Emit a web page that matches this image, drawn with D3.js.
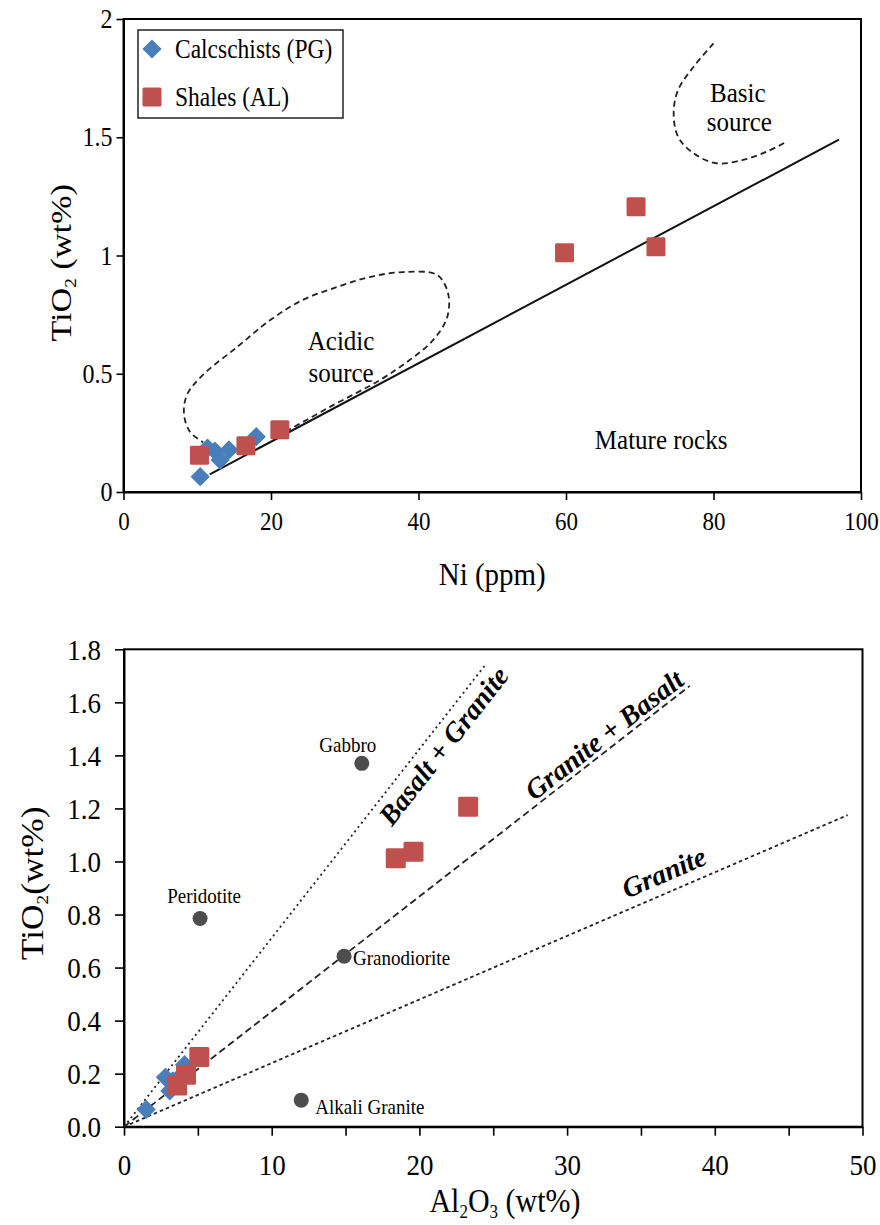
<!DOCTYPE html>
<html>
<head>
<meta charset="utf-8">
<script src="https://cdn.jsdelivr.net/npm/d3@7"></script>
<style>
    body { margin: 0; background: #fff; }
    svg text { font-family: "Liberation Serif", "Times New Roman", serif; fill: #000; }
    .st { transform-box: fill-box; transform-origin: center; transform: scaleY(1.12); }
</style>
</head>
<body>
<div id="chart"></div>
<script>
// ---- top panel: Ni (ppm) vs TiO2 (wt%) ----
const niTicks = [0, 20, 40, 60, 80, 100]
const tiTicksTop = [0, 0.5, 1, 1.5, 2]
const calcNi = [10.4, 11.4, 12.4, 13.1, 14.3, 18.0]
const calcTiO2 = [0.065, 0.186, 0.173, 0.135, 0.178, 0.234]
const shaleNi = [10.3, 16.6, 21.2, 59.8, 69.5, 72.2]
const shaleTiO2 = [0.155, 0.196, 0.263, 1.012, 1.206, 1.037]
const matureLine = [[11.7, 0.075], [97, 1.49]]
const acidicCurve = [[22, 0.255], [28, 0.36], [34.8, 0.474], [38.8, 0.558], [42.0, 0.643], [43.9, 0.740],
    [44.0, 0.841], [42.5, 0.918], [37.9, 0.930], [33.4, 0.909], [29.0, 0.867], [24.3, 0.812],
    [19.9, 0.727], [15.4, 0.613], [10.6, 0.49], [8.6, 0.41], [8.2, 0.33], [9.0, 0.255], [10.8, 0.21]]
const basicCurve = [[80.0, 1.897], [77.3, 1.798], [75.2, 1.700], [74.6, 1.603], [75.2, 1.502],
    [77.3, 1.432], [80.4, 1.390], [84.0, 1.404], [87.2, 1.439], [89.9, 1.481]]

// ---- bottom panel: Al2O3 (wt%) vs TiO2 (wt%) ----
const alTicks = [0, 5, 10, 15, 20, 25, 30, 35, 40, 45, 50]
const tiTicksBottom = [0, 0.2, 0.4, 0.6, 0.8, 1.0, 1.2, 1.4, 1.6, 1.8]
const calcAl = [1.5, 2.8, 3.3, 3.1, 3.6, 4.1]
const shaleAl = [3.6, 4.2, 5.1, 18.4, 23.3, 19.6]
const rockNames = ["Gabbro", "Peridotite", "Granodiorite", "Alkali Granite"]
const rockAl = [16.1, 5.15, 14.9, 12.0]
const rockTiO2 = [1.37, 0.785, 0.643, 0.10]
const mixNames = ["Basalt + Granite", "Granite + Basalt", "Granite"]
const mixEndAl = [24.5, 38.3, 49.0]
const mixEndTiO2 = [1.744, 1.662, 1.175]

const blue = "#4a7ebb", red = "#c0504d", grey = "#4d4d4d"

const svg = d3.select("#chart").append("svg")
    .attr("width", 880)
    .attr("height", 1225)

function styleAxis(g, size) {
    g.attr("font-family", null).attr("font-size", null)
    g.select(".domain").attr("stroke", "#000").attr("stroke-width", 2)
    g.selectAll(".tick line").attr("stroke", "#000").attr("stroke-width", 1.6)
    g.selectAll(".tick text").attr("class", "st").style("font-size", size + "px")
}

function diamond(sel, color) {
    sel.attr("d", d3.symbol().type(d3.symbolSquare).size(185))
        .attr("fill", color)
}

/* ================= top panel ================= */
const xTop = d3.scaleLinear().domain([0, 100]).range([123.5, 861])
const yTop = d3.scaleLinear().domain([0, 2]).range([492, 19])

const topG = svg.append("g")

topG.append("g")
    .attr("transform", `translate(0,${yTop(0)})`)
    .call(d3.axisBottom(xTop).tickValues(niTicks).tickSize(8).tickSizeOuter(0).tickPadding(13))
    .call(styleAxis, 23)

topG.append("g")
    .attr("transform", `translate(${xTop(0)},0)`)
    .call(d3.axisLeft(yTop).tickValues(tiTicksTop).tickFormat(d3.format("")).tickSize(7).tickSizeOuter(0).tickPadding(4))
    .call(styleAxis, 24)

topG.append("rect")
    .attr("x", xTop(0)).attr("y", yTop(2))
    .attr("width", xTop(100) - xTop(0)).attr("height", yTop(0) - yTop(2))
    .attr("fill", "none").attr("stroke", "#000").attr("stroke-width", 2)

let lineTop = d3.line().x(d => xTop(d[0])).y(d => yTop(d[1]))

topG.append("path")
    .datum(matureLine)
    .attr("d", lineTop)
    .attr("fill", "none").attr("stroke", "#111").attr("stroke-width", 2)

topG.selectAll(".curve")
    .data([acidicCurve, basicCurve])
    .enter().append("path")
    .attr("class", "curve")
    .attr("d", lineTop.curve(d3.curveCatmullRom))
    .attr("fill", "none").attr("stroke", "#222").attr("stroke-width", 1.8)
    .attr("stroke-dasharray", "6,4")

topG.selectAll(".calc")
    .data(calcNi.map((d, i) => [d, calcTiO2[i]]))
    .enter().append("path")
    .attr("class", "calc")
    .attr("transform", d => `translate(${xTop(d[0])},${yTop(d[1])}) rotate(45)`)
    .call(diamond, blue)

topG.selectAll(".shale")
    .data(shaleNi.map((d, i) => [d, shaleTiO2[i]]))
    .enter().append("rect")
    .attr("class", "shale")
    .attr("x", d => xTop(d[0]) - 9.5).attr("y", d => yTop(d[1]) - 9.5)
    .attr("width", 19).attr("height", 19).attr("rx", 1.5)
    .attr("fill", red)

// region labels
const regionLabels = [["Acidic", 29.5, 0.64], ["source", 29.5, 0.505], ["Basic", 83.3, 1.69],
    ["source", 83.5, 1.565], ["Mature rocks", 72.9, 0.22]]
topG.selectAll(".region")
    .data(regionLabels)
    .enter().append("text")
    .attr("class", "region st")
    .attr("x", d => xTop(d[1])).attr("y", d => yTop(d[2]))
    .attr("text-anchor", "middle").attr("dominant-baseline", "central")
    .style("font-size", "25px")
    .text(d => d[0])

// legend
const legend = topG.append("g")
legend.append("rect")
    .attr("x", 138).attr("y", 30).attr("width", 205).attr("height", 88)
    .attr("fill", "#fff").attr("stroke", "#222").attr("stroke-width", 1.5)
legend.append("path")
    .attr("transform", "translate(152,49) rotate(45)")
    .call(diamond, blue)
legend.append("rect")
    .attr("x", 142.5).attr("y", 87.5).attr("width", 19).attr("height", 19).attr("rx", 1.5)
    .attr("fill", red)
legend.selectAll(".leg")
    .data(["Calcschists (PG)", "Shales (AL)"])
    .enter().append("text")
    .attr("class", "leg st")
    .attr("x", 175).attr("y", (d, i) => 49 + i * 48)
    .attr("dominant-baseline", "central")
    .style("font-size", "23.5px")
    .text(d => d)

// axis titles
topG.append("text")
    .attr("class", "st")
    .attr("x", (xTop(0) + xTop(100)) / 2).attr("y", 584)
    .attr("text-anchor", "middle")
    .style("font-size", "29px")
    .text("Ni (ppm)")

let yt = topG.append("text")
    .attr("x", 62).attr("y", 272)
    .attr("text-anchor", "middle")
    .style("font-size", "30px")
    .style("transform-box", "fill-box").style("transform-origin", "center")
    .style("transform", "rotate(-90deg) scaleX(1.14)")
yt.append("tspan").text("TiO")
yt.append("tspan").attr("dy", 5).style("font-size", "17px").text("2")
yt.append("tspan").attr("dy", -5).text(" (wt%)")

/* ================= bottom panel ================= */
const xBot = d3.scaleLinear().domain([0, 50]).range([124, 862.5])
const yBot = d3.scaleLinear().domain([0, 1.8]).range([1126.7, 649.3])

const botG = svg.append("g")

botG.append("g")
    .attr("transform", `translate(0,${yBot(0)})`)
    .call(d3.axisBottom(xBot).tickValues(alTicks).tickFormat(d => d % 10 === 0 ? d : "")
        .tickSize(9).tickSizeOuter(0).tickPadding(19))
    .call(styleAxis, 27)

botG.append("g")
    .attr("transform", `translate(${xBot(0)},0)`)
    .call(d3.axisLeft(yBot).tickValues(tiTicksBottom).tickFormat(d3.format(".1f"))
        .tickSize(9).tickSizeOuter(0).tickPadding(14))
    .call(styleAxis, 27)

botG.append("rect")
    .attr("x", xBot(0)).attr("y", yBot(1.8))
    .attr("width", xBot(50) - xBot(0)).attr("height", yBot(0) - yBot(1.8))
    .attr("fill", "none").attr("stroke", "#000").attr("stroke-width", 2)

// mixing lines through the origin
const mixDash = ["2,3.5", "7,4", "3.5,3"]
const mixLabel = [{ at: 0.846, off: -17 }, { at: 0.864, off: 14 }, { at: 0.757, off: 20 }]

mixNames.forEach((name, i) => {
    let x0 = xBot(0), y0 = yBot(0), x1 = xBot(mixEndAl[i]), y1 = yBot(mixEndTiO2[i])
    botG.append("line")
        .attr("x1", x0).attr("y1", y0).attr("x2", x1).attr("y2", y1)
        .attr("stroke", "#222").attr("stroke-width", 1.8)
        .attr("stroke-dasharray", mixDash[i])

    let ang = Math.atan2(y1 - y0, x1 - x0)
    let cx = x0 + (x1 - x0) * mixLabel[i].at + Math.sin(ang) * mixLabel[i].off
    let cy = y0 + (y1 - y0) * mixLabel[i].at - Math.cos(ang) * mixLabel[i].off
    botG.append("text")
        .attr("transform", `translate(${cx},${cy}) rotate(${ang * 180 / Math.PI})`)
        .attr("text-anchor", "middle").attr("dominant-baseline", "central")
        .style("font-size", "28px").style("font-weight", "bold").style("font-style", "italic")
        .text(name)
})

// reference rocks
const rockLabel = [{ dx: -14, dy: -19, anchor: "middle" }, { dx: 4, dy: -23, anchor: "middle" },
    { dx: 9, dy: 1, anchor: "start" }, { dx: 14, dy: 6, anchor: "start" }]
botG.selectAll(".rock")
    .data(rockNames)
    .enter().append("circle")
    .attr("class", "rock")
    .attr("cx", (d, i) => xBot(rockAl[i])).attr("cy", (d, i) => yBot(rockTiO2[i]))
    .attr("r", 7.5)
    .attr("fill", grey)
botG.selectAll(".rockname")
    .data(rockNames)
    .enter().append("text")
    .attr("class", "rockname st")
    .attr("x", (d, i) => xBot(rockAl[i]) + rockLabel[i].dx)
    .attr("y", (d, i) => yBot(rockTiO2[i]) + rockLabel[i].dy)
    .attr("text-anchor", (d, i) => rockLabel[i].anchor).attr("dominant-baseline", "central")
    .style("font-size", "19px")
    .text(d => d)

botG.selectAll(".calc")
    .data(calcAl.map((d, i) => [d, calcTiO2[i]]))
    .enter().append("path")
    .attr("class", "calc")
    .attr("transform", d => `translate(${xBot(d[0])},${yBot(d[1])}) rotate(45)`)
    .call(diamond, blue)

botG.selectAll(".shale")
    .data(shaleAl.map((d, i) => [d, shaleTiO2[i]]))
    .enter().append("rect")
    .attr("class", "shale")
    .attr("x", d => xBot(d[0]) - 10).attr("y", d => yBot(d[1]) - 10)
    .attr("width", 20).attr("height", 20).attr("rx", 1.5)
    .attr("fill", red)

// axis titles
let xt = botG.append("text")
    .attr("class", "st")
    .attr("x", 505).attr("y", 1211)
    .attr("text-anchor", "middle")
    .style("font-size", "30px")
xt.append("tspan").text("Al")
xt.append("tspan").attr("dy", 5).style("font-size", "17px").text("2")
xt.append("tspan").attr("dy", -5).text("O")
xt.append("tspan").attr("dy", 5).style("font-size", "17px").text("3")
xt.append("tspan").attr("dy", -5).text(" (wt%)")

let yb = botG.append("text")
    .attr("x", 33).attr("y", 893)
    .attr("text-anchor", "middle")
    .style("font-size", "31px")
    .style("transform-box", "fill-box").style("transform-origin", "center")
    .style("transform", "rotate(-90deg) scaleX(1.14)")
yb.append("tspan").text("TiO")
yb.append("tspan").attr("dy", 5).style("font-size", "17px").text("2")
yb.append("tspan").attr("dy", -5).text("(wt%)")
</script>
</body>
</html>
